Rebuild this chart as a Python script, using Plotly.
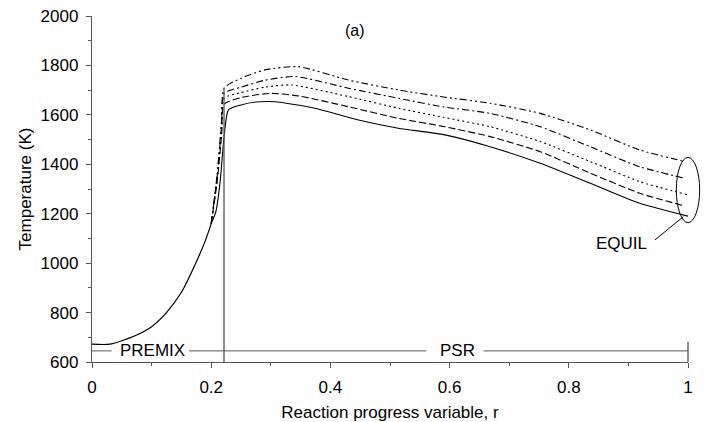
import plotly.graph_objects as go

# ---------------- data ----------------
premix_r = [0.0, 0.03, 0.05, 0.075, 0.1, 0.125, 0.15, 0.175, 0.19, 0.2]
premix_T = [672, 672, 686, 709, 743, 800, 882, 1005, 1090, 1160]

solid_r = [0.2, 0.208, 0.215, 0.222, 0.229, 0.25, 0.275, 0.307, 0.374, 0.447, 0.514, 0.592, 0.668, 0.752, 0.836, 0.919, 1.0]
solid_T = [1160, 1210, 1330, 1520, 1620, 1640, 1652, 1653, 1627, 1579, 1546, 1519, 1471, 1404, 1323, 1242, 1190]

dashed_r = [0.2, 0.21, 0.2175, 0.2215, 0.25, 0.301, 0.35, 0.43, 0.514, 0.592, 0.668, 0.752, 0.836, 0.919, 0.995]
dashed_T = [1160, 1330, 1520, 1643, 1670, 1687, 1675, 1633, 1586, 1552, 1512, 1451, 1364, 1283, 1231]

dotted_r = [0.2, 0.21, 0.2175, 0.2215, 0.25, 0.29, 0.335, 0.43, 0.514, 0.59, 0.668, 0.752, 0.836, 0.919, 1.0]
dotted_T = [1160, 1340, 1540, 1667, 1690, 1712, 1721, 1674, 1627, 1590, 1552, 1492, 1411, 1330, 1276]

dashdot_r = [0.2, 0.21, 0.2175, 0.2215, 0.25, 0.29, 0.341, 0.43, 0.514, 0.59, 0.668, 0.752, 0.836, 0.919, 0.995]
dashdot_T = [1160, 1350, 1560, 1687, 1712, 1740, 1755, 1708, 1667, 1632, 1606, 1552, 1471, 1390, 1343]

dashdotdot_r = [0.2, 0.21, 0.2175, 0.2215, 0.25, 0.29, 0.346, 0.43, 0.514, 0.59, 0.668, 0.752, 0.836, 0.919, 0.995]
dashdotdot_T = [1160, 1360, 1580, 1708, 1748, 1782, 1795, 1741, 1701, 1672, 1647, 1606, 1539, 1458, 1411]

x_ticks = [0, 0.2, 0.4, 0.6, 0.8, 1]
x_tick_labels = ["0", "0.2", "0.4", "0.6", "0.8", "1"]
y_ticks = [600, 800, 1000, 1200, 1400, 1600, 1800, 2000]

# annotation positions
r_split = 0.2215          # PREMIX / PSR boundary
T_bar = 645               # level of the PREMIX / PSR bar
T_split_top = 1708
bar_segments = [(0.0, 0.033), (0.163, 0.561), (0.657, 1.0)]
equil_center = (1.0, 1296)
equil_half = (0.0196, 132)

# ---------------- figure ----------------
FONT = "Liberation Sans, Arial, Helvetica, sans-serif"
AX = "#555555"

fig = go.Figure()

fig.add_trace(go.Scatter(x=premix_r, y=premix_T, mode="lines",
                         line=dict(color="black", width=1.2, shape="spline", smoothing=0.8),
                         showlegend=False))

series = [
    (solid_r, solid_T, "solid"),
    (dashed_r, dashed_T, "7px,3px"),
    (dotted_r, dotted_T, "2px,3px"),
    (dashdot_r, dashdot_T, "7px,3px,2px,3px"),
    (dashdotdot_r, dashdotdot_T, "7px,3px,2px,3px,2px,3px"),
]
for r, T, dash in series:
    fig.add_trace(go.Scatter(x=r, y=T, mode="lines",
                             line=dict(color="black", width=1.1, dash=dash,
                                       shape="spline", smoothing=0.6),
                             showlegend=False))

shapes = [
    dict(type="line", xref="x", yref="y", x0=r_split, x1=r_split, y0=600, y1=T_split_top,
         line=dict(color=AX, width=1.3)),
    dict(type="line", xref="paper", yref="y", x0=1, x1=1, y0=600, y1=682,
         line=dict(color=AX, width=1.3)),
    dict(type="circle", xref="paper", yref="y",
         x0=equil_center[0] - equil_half[0], x1=equil_center[0] + equil_half[0],
         y0=equil_center[1] - equil_half[1], y1=equil_center[1] + equil_half[1],
         line=dict(color="black", width=1)),
    dict(type="line", xref="x", yref="y", x0=0.9446, x1=0.9921, y0=1094, y1=1188,
         line=dict(color="black", width=1)),
]
for a, b in bar_segments:
    shapes.append(dict(type="line", xref="x", yref="y", x0=a, x1=b, y0=T_bar, y1=T_bar,
                       line=dict(color=AX, width=1)))

annotations = [
    dict(x=0.1015, y=T_bar, text="PREMIX", showarrow=False,
         font=dict(size=17, color="black", family=FONT)),
    dict(x=0.6125, y=T_bar, text="PSR", showarrow=False,
         font=dict(size=17, color="black", family=FONT)),
    dict(x=0.888, y=1080, text="EQUIL", showarrow=False,
         font=dict(size=17, color="black", family=FONT)),
    dict(x=0.441, y=1940, text="(a)", showarrow=False,
         font=dict(size=16, color="black", family=FONT)),
]

fig.update_layout(
    width=705, height=422,
    margin=dict(l=92, r=17, t=16, b=60, autoexpand=False),
    paper_bgcolor="white", plot_bgcolor="white",
    font=dict(family=FONT, size=17, color="black"),
    shapes=shapes, annotations=annotations, showlegend=False,
)

fig.update_xaxes(
    range=[0, 1], tickvals=x_ticks, ticktext=x_tick_labels,
    ticks="outside", ticklen=5, tickwidth=1.3, tickcolor=AX,
    showline=True, linecolor=AX, linewidth=1.3, mirror=False,
    showgrid=False, zeroline=False, ticklabelstandoff=4,
    minor=dict(dtick=0.1, tick0=0, ticks="outside", ticklen=3, tickwidth=1.3,
               tickcolor=AX, showgrid=False),
    title=dict(text="Reaction progress variable, r", standoff=12,
               font=dict(size=17, family=FONT)),
    automargin=False,
)
fig.update_yaxes(
    range=[600, 2000], tickvals=y_ticks,
    ticks="outside", ticklen=5, tickwidth=1.3, tickcolor=AX,
    showline=True, linecolor=AX, linewidth=1.3, mirror=False,
    showgrid=False, zeroline=False, ticklabelstandoff=4,
    minor=dict(dtick=100, tick0=0, ticks="outside", ticklen=3, tickwidth=1.3,
               tickcolor=AX, showgrid=False),
    title=dict(text="Temperature (K)", standoff=4,
               font=dict(size=17, family=FONT)),
    automargin=False,
)

fig.write_html("out.html", config={"displayModeBar": False},
               post_script="document.body.style.margin='0';document.body.style.padding='0';")
